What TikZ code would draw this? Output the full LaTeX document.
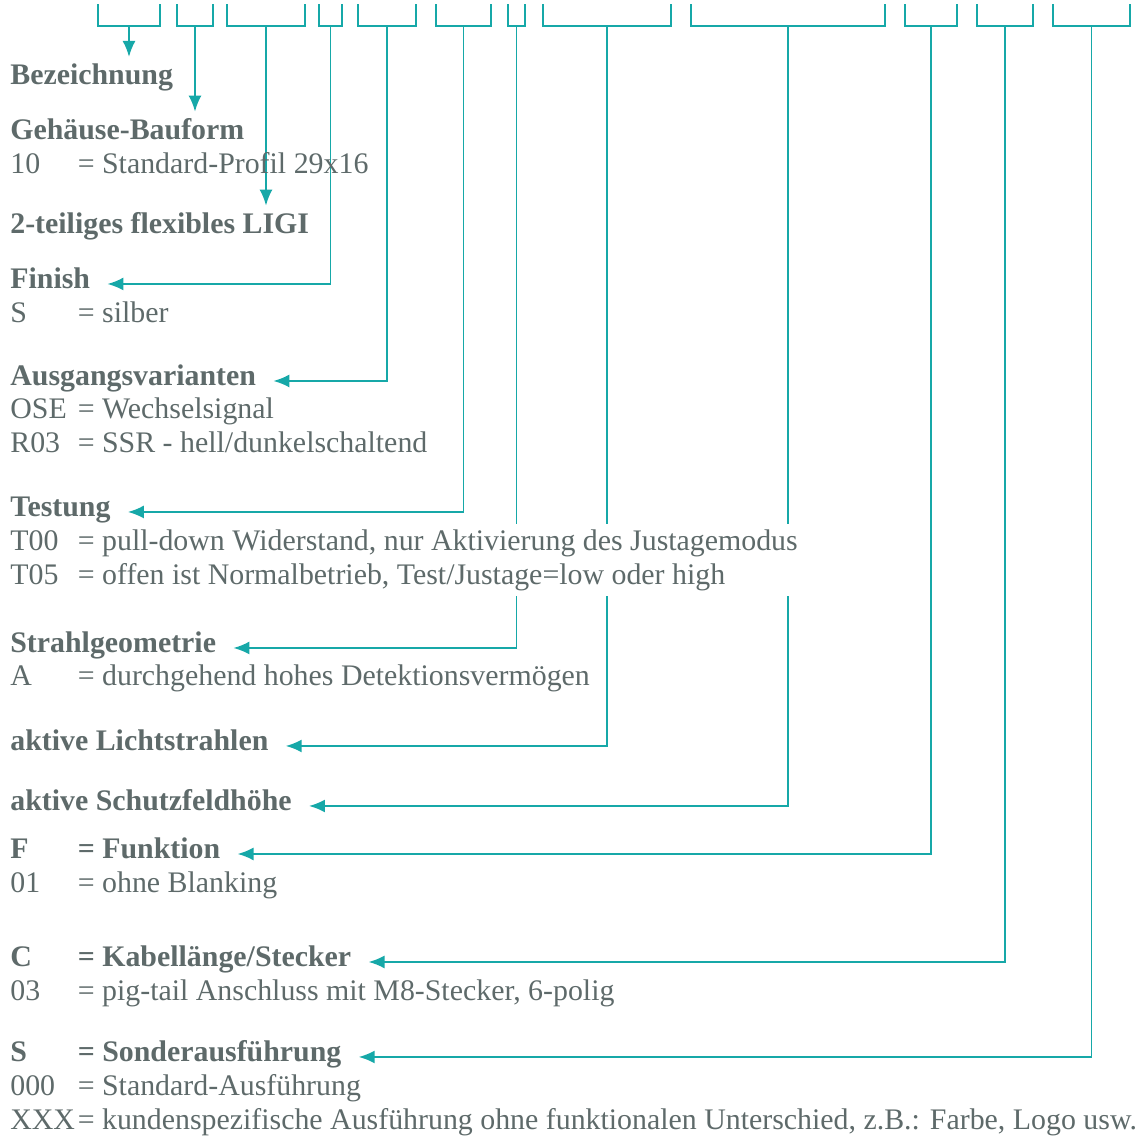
\documentclass[tikz,border=0pt]{standalone}
\usepackage{fontspec}
\setmainfont{Liberation Serif}
\usepackage{xcolor}
\usetikzlibrary{arrows.meta,calc,backgrounds}
\definecolor{ink}  {HTML}{5E6A6A}
\definecolor{teal} {HTML}{16A8A8}
\newcommand{\code}[1]{\makebox[1.35cm][l]{#1}}
\newcommand{\wide}[1]{\makebox[16cm][l]{#1}}
\tikzset{
  head/.style  = {anchor=base west, inner sep=0pt, text=ink,
                  font=\fontsize{17}{20}\selectfont\bfseries},
  desc/.style  = {anchor=base west, inner sep=0pt, text=ink,
                  font=\fontsize{17}{20}\selectfont},
  knock/.style = {fill=white, inner ysep=3pt},
  brace/.style = {draw=teal, line width=1.1pt},
  flow/.style  = {-{Latex[length=3.2mm,width=2.6mm]}, draw=teal, line width=1.1pt},
  drop/.style  = {flow, shorten >=0.12cm},
}

\begin{document}
\begin{tikzpicture}[x=0.02cm, y=-0.02cm]
  \useasboundingbox (0,0) rectangle (1144,1137);

  % brackets over the type code
  \foreach \l/\r/\n in {98/160/1, 177/213/2, 227/305/3, 319/342/4, 358/416/5,
                        436/491/6, 508/525/7, 543/671/8, 691/885/9,
                        905/957/10, 977/1033/11, 1053/1130/12}{
    \draw[brace] (\l,4) -- (\l,26) -- (\r,26) -- (\r,4);
    \coordinate (b\n) at ({(\l+\r)/2},26);
  }

  \node[head] (bez)  at (10,84)  {Bezeichnung};
  \node[head] (geh)  at (10,139) {Gehäuse-Bauform};
  \node[desc] (geh1) at (10,173) {\code{10}= Standard-Profil 29x16};
  \node[head] (ligi) at (10,233) {2-teiliges flexibles LIGI};
  \node[head] (fin)  at (10,288) {Finish};
  \node[desc] (fin1) at (10,322) {\code{S}= silber};
  \node[head] (aus)  at (10,385) {Ausgangsvarianten};
  \node[desc] (aus1) at (10,418) {\code{OSE}= Wechselsignal};
  \node[desc] (aus2) at (10,452) {\code{R03}= SSR - hell/dunkelschaltend};
  \node[head] (tes)  at (10,516) {Testung};
  \node[desc, knock] (tes1) at (10,550) {\wide{\code{T00}= pull-down Widerstand, nur Aktivierung des Justagemodus}};
  \node[desc, knock] (tes2) at (10,584) {\wide{\code{T05}= offen ist Normalbetrieb, Test/Justage=low oder high}};
  \node[head] (str)  at (10,652) {Strahlgeometrie};
  \node[desc] (str1) at (10,685) {\code{A}= durchgehend hohes Detektionsvermögen};
  \node[head] (lic)  at (10,750) {aktive Lichtstrahlen};
  \node[head] (sch)  at (10,810) {aktive Schutzfeldhöhe};
  \node[head] (fkt)  at (10,858) {\code{F}= Funktion};
  \node[desc] (fkt1) at (10,892) {\code{01}= ohne Blanking};
  \node[head] (kab)  at (10,966) {\code{C}= Kabellänge/Stecker};
  \node[desc] (kab1) at (10,1000) {\code{03}= pig-tail Anschluss mit M8-Stecker, 6-polig};
  \node[head] (son)  at (10,1061) {\code{S}= Sonderausführung};
  \node[desc] (son1) at (10,1095) {\code{000}= Standard-Ausführung};
  \node[desc] (son2) at (10,1129) {\code{XXX}= kundenspezifische Ausführung ohne funktionalen Unterschied, z.B.: Farbe, Logo usw.};

  \begin{scope}[on background layer]
    \draw[drop] (b1) -- (b1 |- bez.north);
    \draw[drop] (b2) -- (b2 |- geh.north);
    \draw[drop] (b3) -- (b3 |- ligi.north);
    \draw[flow] (b4)  |- ([xshift=0.34cm]fin.mid east);
    \draw[flow] (b5)  |- ([xshift=0.34cm]aus.mid east);
    \draw[flow] (b6)  |- ([xshift=0.34cm]tes.mid east);
    \draw[flow] (b7)  |- ([xshift=0.34cm]str.mid east);
    \draw[flow] (b8)  |- ([xshift=0.34cm]lic.mid east);
    \draw[flow] (b9)  |- ([xshift=0.34cm]sch.mid east);
    \draw[flow] (b10) |- ([xshift=0.34cm]fkt.mid east);
    \draw[flow] (b11) |- ([xshift=0.34cm]kab.mid east);
    \draw[flow] (b12) |- ([xshift=0.34cm]son.mid east);
  \end{scope}
\end{tikzpicture}
\end{document}
